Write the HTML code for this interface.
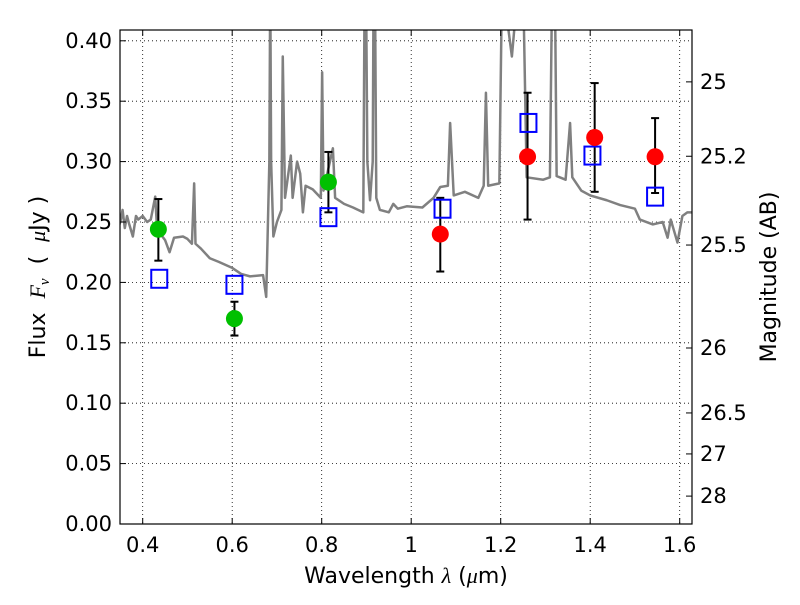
<!DOCTYPE html>
<html><head><meta charset="utf-8"><style>
body{margin:0;background:#fff}
svg text{font-family:"DejaVu Sans","Liberation Sans",sans-serif;fill:#000}
</style></head><body>
<svg id="chart" width="800" height="600" viewBox="0 0 800 600" xmlns="http://www.w3.org/2000/svg">
<defs><clipPath id="clip"><rect x="120" y="30" width="572" height="494"/></clipPath></defs>
<rect width="800" height="600" fill="#fff"/>
<g id="grid"></g>
<g id="spec" clip-path="url(#clip)"></g>
<g id="marks"></g>
<rect x="120" y="30" width="572" height="494" fill="none" stroke="#000" stroke-width="1.2"/>
<g id="axes"></g>
<text x="406" y="583" font-size="22" text-anchor="middle">Wavelength  <tspan font-style="italic" font-family="Liberation Serif">λ</tspan> (<tspan font-style="italic" font-family="Liberation Serif">μ</tspan>m)</text>
<text transform="translate(45,277) rotate(-90)" font-size="22" text-anchor="middle" xml:space="preserve">Flux  <tspan font-style="italic" font-family="Liberation Serif">F</tspan><tspan font-style="italic" font-family="Liberation Serif" font-size="15" dy="4">ν</tspan><tspan dy="-4">  (  </tspan><tspan font-style="italic" font-family="Liberation Serif">μ</tspan>Jy )</text>
<text transform="translate(776,277) rotate(-90)" font-size="22" text-anchor="middle">Magnitude (AB)</text>
</svg>
<script>
const xTicks=[0.4,0.6,0.8,1.0,1.2,1.4,1.6];
const xTickLabels=["0.4","0.6","0.8","1","1.2","1.4","1.6"];
const yTicks=[0,0.05,0.1,0.15,0.2,0.25,0.3,0.35,0.4];
const yTickLabels=["0.00","0.05","0.10","0.15","0.20","0.25","0.30","0.35","0.40"];
const magTicks=[25,25.2,25.5,26,26.5,27,28];
const magTickLabels=["25","25.2","25.5","26","26.5","27","28"];
const specWave=[0.345,0.35,0.355,0.36,0.365,0.37,0.378,0.385,0.39,0.40,0.41,0.418,0.428,0.432,0.44,0.45,0.46,0.47,0.49,0.5,0.51,0.515,0.518,0.53,0.55,0.57,0.6,0.62,0.64,0.669,0.676,0.683,0.685,0.687,0.692,0.70,0.71,0.713,0.718,0.731,0.735,0.745,0.752,0.758,0.764,0.78,0.798,0.801,0.804,0.825,0.83,0.85,0.87,0.893,0.896,0.899,0.902,0.908,0.914,0.916,0.919,0.922,0.93,0.95,0.96,0.97,0.99,1.025,1.05,1.065,1.082,1.087,1.095,1.12,1.15,1.162,1.167,1.172,1.197,1.203,1.225,1.24,1.25,1.258,1.295,1.31,1.315,1.321,1.325,1.345,1.355,1.36,1.38,1.40,1.437,1.467,1.50,1.511,1.54,1.562,1.573,1.58,1.595,1.606,1.617,1.63];
const specFlux=[0.245,0.25,0.26,0.245,0.255,0.248,0.238,0.255,0.252,0.255,0.25,0.252,0.271,0.245,0.24,0.235,0.225,0.237,0.238,0.236,0.232,0.282,0.232,0.228,0.22,0.217,0.212,0.207,0.205,0.206,0.188,0.30,0.45,0.30,0.238,0.25,0.26,0.387,0.27,0.305,0.27,0.30,0.29,0.258,0.28,0.277,0.27,0.374,0.276,0.311,0.27,0.265,0.262,0.258,0.45,0.45,0.30,0.268,0.30,0.45,0.45,0.27,0.26,0.258,0.265,0.261,0.263,0.262,0.27,0.279,0.28,0.332,0.272,0.275,0.27,0.28,0.357,0.28,0.282,0.45,0.387,0.45,0.45,0.287,0.285,0.287,0.45,0.45,0.288,0.285,0.332,0.287,0.276,0.272,0.268,0.264,0.261,0.252,0.248,0.25,0.237,0.252,0.233,0.255,0.258,0.258];
const obsWave=[0.435,0.605,0.815,1.065,1.26,1.41,1.545];
const obsFlux=[0.244,0.170,0.283,0.240,0.304,0.320,0.304];
const obsLo=[0.218,0.156,0.258,0.209,0.252,0.275,0.274];
const obsHi=[0.269,0.184,0.308,0.270,0.357,0.365,0.336];
const obsColor=["#00c000","#00c000","#00c000","#ff0000","#ff0000","#ff0000","#ff0000"];
const modelWave=[0.437,0.605,0.815,1.07,1.262,1.405,1.545];
const modelFlux=[0.203,0.198,0.254,0.261,0.332,0.305,0.271];

const NS="http://www.w3.org/2000/svg";
const X=l=>142.7+(l-0.4)*447.5;
const Y=f=>524-f*1208;
const magToFlux=m=>0.366*Math.pow(10,-0.4*(m-25));
function mk(p,t,a){const e=document.createElementNS(NS,t);for(const k in a)e.setAttribute(k,a[k]);p.appendChild(e);return e;}
const grid=document.getElementById('grid'),axes=document.getElementById('axes'),spec=document.getElementById('spec'),marks=document.getElementById('marks');
xTicks.forEach((v,i)=>{
  const g=mk(grid,'line',{x1:X(v),x2:X(v),y1:30,y2:524,stroke:'#000','stroke-width':0.8,'stroke-dasharray':'1,3'});
  
  
  mk(axes,'line',{x1:X(v),x2:X(v),y1:524,y2:518,stroke:'#000'});
  mk(axes,'line',{x1:X(v),x2:X(v),y1:30,y2:36,stroke:'#000'});
  const t=mk(axes,'text',{x:X(v),y:552,'font-size':21,'text-anchor':'middle'});t.textContent=xTickLabels[i];
  
  
});
yTicks.forEach((v,i)=>{
  if(v>0){const g=mk(grid,'line',{x1:120,x2:692,y1:Y(v),y2:Y(v),stroke:'#000','stroke-width':0.8,'stroke-dasharray':'1,3'});
  
  }
  mk(axes,'line',{x1:120,x2:126,y1:Y(v),y2:Y(v),stroke:'#000'});
  const t=mk(axes,'text',{x:112,y:Y(v)+7,'font-size':21,'text-anchor':'end'});t.textContent=yTickLabels[i];
  
  
});
magTicks.forEach((m,i)=>{
  const y=Y(magToFlux(m));
  mk(axes,'line',{x1:686,x2:692,y1:y,y2:y,stroke:'#000'});
  const t=mk(axes,'text',{x:700,y:y+7,'font-size':21});t.textContent=magTickLabels[i];
  
  
});
const sp=mk(spec,'polyline',{points:specWave.map((w,i)=>X(w)+','+Y(specFlux[i])).join(' '),fill:'none',stroke:'#808080','stroke-width':2.5,'stroke-linejoin':'round'});


obsWave.forEach((w,i)=>{
  const x=X(w);
  const eb=mk(marks,'g',{stroke:'#000','stroke-width':2});
  
  
  mk(eb,'line',{x1:x,x2:x,y1:Y(obsLo[i]),y2:Y(obsHi[i])});
  mk(eb,'line',{x1:x-4,x2:x+4,y1:Y(obsLo[i]),y2:Y(obsLo[i])});
  mk(eb,'line',{x1:x-4,x2:x+4,y1:Y(obsHi[i]),y2:Y(obsHi[i])});
});
modelWave.forEach((w,i)=>{
  const r=mk(marks,'rect',{x:X(w)-8,y:Y(modelFlux[i])-9,width:16,height:18,fill:'none',stroke:'#0000ff','stroke-width':2});
  
  
});
obsWave.forEach((w,i)=>{
  const c=mk(marks,'circle',{cx:X(w),cy:Y(obsFlux[i]),r:8.5,fill:obsColor[i]});
  
  
});
</script>
</body></html>
